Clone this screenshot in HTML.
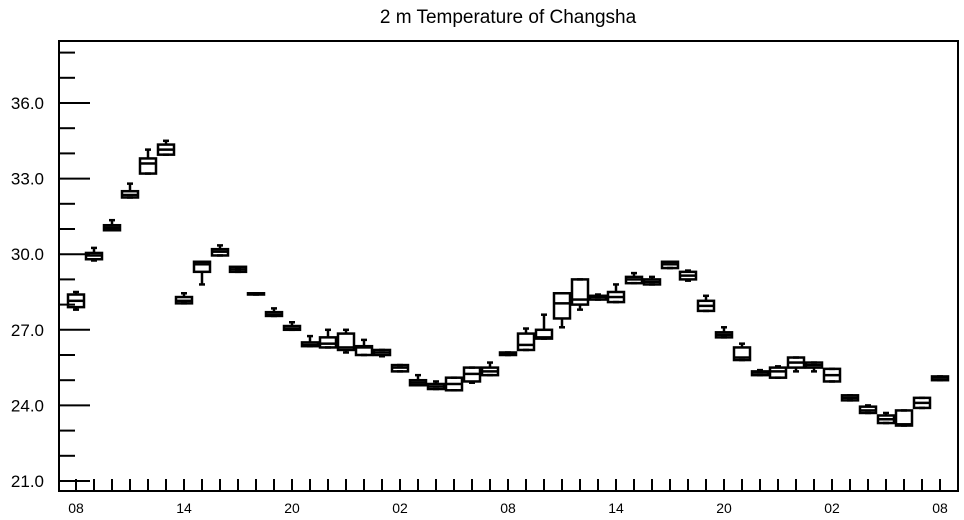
<!DOCTYPE html>
<html><head><meta charset="utf-8"><style>
html,body{margin:0;padding:0;background:#fff;}
svg{display:block;font-family:"Liberation Sans",Arial,sans-serif;}
</style></head><body>
<svg id="chart" width="964" height="520" viewBox="0 0 964 520">
<text x="508" y="23" text-anchor="middle" font-size="19">2 m Temperature of Changsha</text>
<rect x="59" y="41" width="899" height="450" fill="none" stroke="#000" stroke-width="2"/>
<g id="yaxis"></g>
<g id="xaxis"></g>
<g id="boxes"></g>
</svg>
<script>
const hours = [0,1,2,3,4,5,6,7,8,9,10,11,12,13,14,15,16,17,18,19,20,21,22,23,24,25,26,27,28,29,30,31,32,33,34,35,36,37,38,39,40,41,42,43,44,45,46,47,48];
const mins = [27.8,29.75,30.95,32.25,33.2,33.95,28.05,28.8,29.95,29.3,28.4,27.55,27.0,26.35,26.3,26.1,26.0,25.95,25.35,24.8,24.65,24.6,24.9,25.2,26.0,26.2,26.65,27.1,27.8,28.2,28.1,28.85,28.8,29.45,28.95,27.75,26.7,25.8,25.2,25.1,25.35,25.35,24.95,24.2,23.7,23.3,23.2,23.9,25.0];
const q1s = [27.9,29.8,30.95,32.25,33.2,33.95,28.05,29.3,29.95,29.3,28.4,27.55,27.0,26.35,26.3,26.2,26.0,26.0,25.35,24.8,24.65,24.6,24.95,25.2,26.0,26.2,26.65,27.45,28.0,28.2,28.1,28.85,28.8,29.45,29.0,27.75,26.7,25.8,25.2,25.1,25.5,25.5,24.95,24.2,23.7,23.3,23.2,23.9,25.0];
const medians = [28.15,29.95,31.05,32.35,33.6,34.15,28.15,29.6,30.1,29.4,28.42,27.6,27.05,26.4,26.45,26.3,26.3,26.1,25.5,24.9,24.75,24.85,25.25,25.35,26.05,26.4,26.7,28.05,28.2,28.3,28.3,29.0,28.9,29.6,29.15,27.95,26.8,25.9,25.3,25.35,25.7,25.6,25.2,24.3,23.8,23.45,23.25,24.1,25.1];
const q3s = [28.4,30.05,31.15,32.5,33.8,34.35,28.3,29.7,30.2,29.5,28.45,27.7,27.15,26.5,26.7,26.85,26.35,26.2,25.6,25.0,24.85,25.1,25.5,25.5,26.1,26.85,27.0,28.45,29.0,28.35,28.5,29.1,29.0,29.7,29.3,28.15,26.9,26.3,25.35,25.5,25.9,25.7,25.45,24.4,23.95,23.6,23.8,24.3,25.15];
const maxs = [28.5,30.25,31.35,32.8,34.15,34.5,28.45,29.7,30.35,29.45,28.45,27.85,27.3,26.75,27.0,27.0,26.6,26.2,25.6,25.2,24.95,25.1,25.5,25.7,26.1,27.05,27.6,28.45,29.0,28.4,28.8,29.25,29.1,29.7,29.35,28.35,27.1,26.45,25.4,25.55,25.9,25.7,25.45,24.4,24.0,23.7,23.8,24.3,25.15];
const yTicks = [21,24,27,30,33,36];
const yTickLabels = ["21.0","24.0","27.0","30.0","33.0","36.0"];
const xLabelHours = [0,6,12,18,24,30,36,42,48];
const xTickLabels = ["08","14","20","02","08","14","20","02","08"];

const NS="http://www.w3.org/2000/svg";
const yScale = v => 481 - (v-21)*25.2;
const xScale = h => 76 + h*18;
function mk(tag, attrs, parent){const e=document.createElementNS(NS,tag);for(const k in attrs)e.setAttribute(k,attrs[k]);parent.appendChild(e);return e;}
const ya=document.getElementById('yaxis'), xa=document.getElementById('xaxis'), bx=document.getElementById('boxes');
for(let v=21; v<=38; v++){
  const y=yScale(v); if(y<42) continue;
  const major = yTicks.includes(v);
  const t=mk('line',{x1:59,x2:major?90:75,y1:y,y2:y,stroke:'#000','stroke-width':2},ya);
  
  
}
yTicks.forEach((v,i)=>{
  const t=mk('text',{x:44,y:yScale(v)+6,'text-anchor':'end','font-size':17},ya);
  t.textContent=yTickLabels[i];
  
  
});
hours.forEach(h=>{
  const t=mk('line',{x1:xScale(h),x2:xScale(h),y1:491,y2:479,stroke:'#000','stroke-width':2},xa);
  
  
});
xLabelHours.forEach((h,i)=>{
  const t=mk('text',{x:xScale(h),y:513,'text-anchor':'middle','font-size':14},xa);
  t.textContent=xTickLabels[i];
  
  
});
hours.forEach((h,i)=>{
  const g=mk('g',{stroke:'#000','stroke-width':2.5,fill:'none'},bx);
  
  
  const x=xScale(h), w=16;
  const yq3=yScale(q3s[i]), yq1=yScale(q1s[i]);
  mk('line',{x1:x,x2:x,y1:yScale(maxs[i]),y2:yq3},g);
  mk('line',{x1:x,x2:x,y1:yq1,y2:yScale(mins[i])},g);
  mk('line',{x1:x-3,x2:x+3,y1:yScale(maxs[i]),y2:yScale(maxs[i])},g);
  mk('line',{x1:x-3,x2:x+3,y1:yScale(mins[i]),y2:yScale(mins[i])},g);
  mk('rect',{x:x-w/2,y:yq3,width:w,height:Math.max(yq1-yq3,1)},g);
  mk('line',{x1:x-w/2,x2:x+w/2,y1:yScale(medians[i]),y2:yScale(medians[i])},g);
});
</script>
</body></html>
